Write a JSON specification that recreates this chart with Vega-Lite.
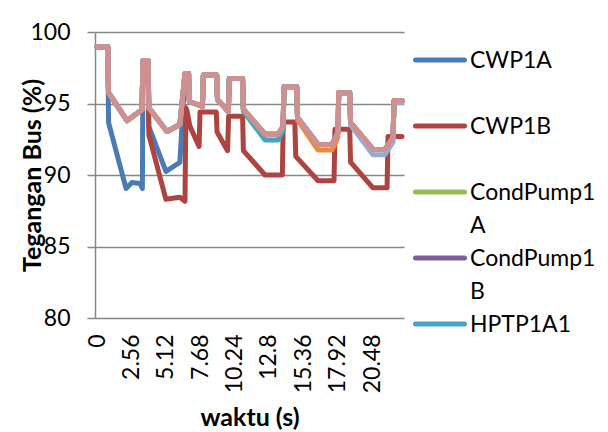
{
  "$schema": "https://vega.github.io/schema/vega-lite/v6.json",
  "width": 309,
  "height": 286,
  "autosize": {"type": "none"},
  "padding": {"left": 95, "top": 32, "right": 204, "bottom": 114},
  "background": "white",
  "title": {"text": "pada Gambar 7.", "anchor": "start", "dx": -97, "offset": 27, "baseline": "alphabetic", "font": "Liberation Serif", "fontSize": 24, "fontWeight": "normal", "color": "black"},
  "config": {"view": {"stroke": null}, "font": "Lato"},
  "datasets": {
    "d": [
      {"s":"CWP1A","t":0,"v":98.97},{"s":"CWP1A","t":0.8,"v":98.97},{"s":"CWP1A","t":0.86,"v":93.67},{"s":"CWP1A","t":2.16,"v":89.06},{"s":"CWP1A","t":2.6,"v":89.48},{"s":"CWP1A","t":3.2,"v":89.41},{"s":"CWP1A","t":3.38,"v":89.06},{"s":"CWP1A","t":3.42,"v":98.0},{"s":"CWP1A","t":3.8,"v":98.0},{"s":"CWP1A","t":3.86,"v":93.38},{"s":"CWP1A","t":5.13,"v":90.25},{"s":"CWP1A","t":6.17,"v":90.88},{"s":"CWP1A","t":6.55,"v":97.1},{"s":"CWP1A","t":6.82,"v":97.1},{"s":"CWP1A","t":6.87,"v":95.14},{"s":"CWP1A","t":7.85,"v":94.79},{"s":"CWP1A","t":7.92,"v":97.0},{"s":"CWP1A","t":8.91,"v":97.0},{"s":"CWP1A","t":8.97,"v":95.28},{"s":"CWP1A","t":9.78,"v":94.44},{"s":"CWP1A","t":9.85,"v":96.74},{"s":"CWP1A","t":10.84,"v":96.74},{"s":"CWP1A","t":10.9,"v":94.6},{"s":"CWP1A","t":12.51,"v":92.85},{"s":"CWP1A","t":13.48,"v":92.85},{"s":"CWP1A","t":13.85,"v":93.39},{"s":"CWP1A","t":13.93,"v":96.18},{"s":"CWP1A","t":14.87,"v":96.18},{"s":"CWP1A","t":14.93,"v":94.02},{"s":"CWP1A","t":16.46,"v":92.13},{"s":"CWP1A","t":17.5,"v":92.13},{"s":"CWP1A","t":17.94,"v":92.97},{"s":"CWP1A","t":18,"v":95.76},{"s":"CWP1A","t":18.82,"v":95.76},{"s":"CWP1A","t":18.88,"v":93.67},{"s":"CWP1A","t":20.55,"v":91.79},{"s":"CWP1A","t":21.44,"v":91.79},{"s":"CWP1A","t":22.04,"v":92.62},{"s":"CWP1A","t":22.12,"v":95.21},{"s":"CWP1A","t":22.71,"v":95.21},

      {"s":"CWP1B","t":0,"v":98.97},{"s":"CWP1B","t":0.8,"v":98.97},{"s":"CWP1B","t":0.86,"v":95.76},{"s":"CWP1B","t":2.23,"v":93.8},{"s":"CWP1B","t":3.35,"v":94.57},{"s":"CWP1B","t":3.42,"v":98.0},{"s":"CWP1B","t":3.8,"v":98.0},{"s":"CWP1B","t":3.86,"v":92.8},{"s":"CWP1B","t":5.13,"v":88.3},{"s":"CWP1B","t":6.17,"v":88.44},{"s":"CWP1B","t":6.55,"v":88.16},{"s":"CWP1B","t":6.62,"v":94.7},{"s":"CWP1B","t":6.7,"v":94.5},{"s":"CWP1B","t":6.92,"v":93.4},{"s":"CWP1B","t":7.6,"v":92.0},{"s":"CWP1B","t":7.67,"v":94.4},{"s":"CWP1B","t":8.88,"v":94.4},{"s":"CWP1B","t":8.94,"v":93.0},{"s":"CWP1B","t":9.72,"v":91.7},{"s":"CWP1B","t":9.8,"v":94.1},{"s":"CWP1B","t":10.84,"v":94.1},{"s":"CWP1B","t":10.9,"v":91.7},{"s":"CWP1B","t":12.51,"v":90.0},{"s":"CWP1B","t":13.8,"v":90.0},{"s":"CWP1B","t":13.87,"v":93.7},{"s":"CWP1B","t":14.73,"v":93.7},{"s":"CWP1B","t":14.8,"v":91.3},{"s":"CWP1B","t":16.46,"v":89.6},{"s":"CWP1B","t":17.65,"v":89.6},{"s":"CWP1B","t":17.72,"v":93.2},{"s":"CWP1B","t":18.82,"v":93.2},{"s":"CWP1B","t":18.88,"v":90.9},{"s":"CWP1B","t":20.55,"v":89.1},{"s":"CWP1B","t":21.6,"v":89.1},{"s":"CWP1B","t":21.67,"v":92.7},{"s":"CWP1B","t":22.71,"v":92.7},

      {"s":"CondPump1A","t":0,"v":98.97},{"s":"CondPump1A","t":0.8,"v":98.97},{"s":"CondPump1A","t":0.86,"v":95.76},{"s":"CondPump1A","t":2.23,"v":93.8},{"s":"CondPump1A","t":3.35,"v":94.57},{"s":"CondPump1A","t":3.42,"v":98.0},{"s":"CondPump1A","t":3.8,"v":98.0},{"s":"CondPump1A","t":3.86,"v":94.7},{"s":"CondPump1A","t":5.21,"v":93.04},{"s":"CondPump1A","t":6.17,"v":93.53},{"s":"CondPump1A","t":6.55,"v":97.1},{"s":"CondPump1A","t":6.82,"v":97.1},{"s":"CondPump1A","t":6.87,"v":95.14},{"s":"CondPump1A","t":7.85,"v":94.79},{"s":"CondPump1A","t":7.92,"v":97.0},{"s":"CondPump1A","t":8.91,"v":97.0},{"s":"CondPump1A","t":8.97,"v":95.28},{"s":"CondPump1A","t":9.78,"v":94.44},{"s":"CondPump1A","t":9.85,"v":96.74},{"s":"CondPump1A","t":10.84,"v":96.74},{"s":"CondPump1A","t":10.9,"v":94.6},{"s":"CondPump1A","t":12.51,"v":92.85},{"s":"CondPump1A","t":13.48,"v":92.85},{"s":"CondPump1A","t":13.85,"v":93.39},{"s":"CondPump1A","t":13.93,"v":96.18},{"s":"CondPump1A","t":14.87,"v":96.18},{"s":"CondPump1A","t":14.93,"v":94.02},{"s":"CondPump1A","t":16.46,"v":92.13},{"s":"CondPump1A","t":17.5,"v":92.13},{"s":"CondPump1A","t":17.94,"v":92.97},{"s":"CondPump1A","t":18,"v":95.76},{"s":"CondPump1A","t":18.82,"v":95.76},{"s":"CondPump1A","t":18.88,"v":93.67},{"s":"CondPump1A","t":20.55,"v":91.79},{"s":"CondPump1A","t":21.44,"v":91.79},{"s":"CondPump1A","t":22.04,"v":92.62},{"s":"CondPump1A","t":22.12,"v":95.21},{"s":"CondPump1A","t":22.71,"v":95.21},

      {"s":"CondPump1B","t":0,"v":98.97},{"s":"CondPump1B","t":0.8,"v":98.97},{"s":"CondPump1B","t":0.86,"v":95.76},{"s":"CondPump1B","t":2.23,"v":93.8},{"s":"CondPump1B","t":3.35,"v":94.57},{"s":"CondPump1B","t":3.42,"v":98.0},{"s":"CondPump1B","t":3.8,"v":98.0},{"s":"CondPump1B","t":3.86,"v":94.7},{"s":"CondPump1B","t":5.21,"v":93.04},{"s":"CondPump1B","t":6.17,"v":93.53},{"s":"CondPump1B","t":6.55,"v":97.1},{"s":"CondPump1B","t":6.82,"v":97.1},{"s":"CondPump1B","t":6.87,"v":95.14},{"s":"CondPump1B","t":7.85,"v":94.79},{"s":"CondPump1B","t":7.92,"v":97.0},{"s":"CondPump1B","t":8.91,"v":97.0},{"s":"CondPump1B","t":8.97,"v":95.28},{"s":"CondPump1B","t":9.78,"v":94.44},{"s":"CondPump1B","t":9.85,"v":96.74},{"s":"CondPump1B","t":10.84,"v":96.74},{"s":"CondPump1B","t":10.9,"v":94.6},{"s":"CondPump1B","t":12.51,"v":92.85},{"s":"CondPump1B","t":13.48,"v":92.85},{"s":"CondPump1B","t":13.85,"v":93.39},{"s":"CondPump1B","t":13.93,"v":96.18},{"s":"CondPump1B","t":14.87,"v":96.18},{"s":"CondPump1B","t":14.93,"v":94.02},{"s":"CondPump1B","t":16.46,"v":92.13},{"s":"CondPump1B","t":17.5,"v":92.13},{"s":"CondPump1B","t":17.94,"v":92.97},{"s":"CondPump1B","t":18,"v":95.76},{"s":"CondPump1B","t":18.82,"v":95.76},{"s":"CondPump1B","t":18.88,"v":93.67},{"s":"CondPump1B","t":20.55,"v":91.79},{"s":"CondPump1B","t":21.44,"v":91.79},{"s":"CondPump1B","t":22.04,"v":92.62},{"s":"CondPump1B","t":22.12,"v":95.21},{"s":"CondPump1B","t":22.71,"v":95.21},

      {"s":"HPTP1A1","t":0,"v":98.97},{"s":"HPTP1A1","t":0.8,"v":98.97},{"s":"HPTP1A1","t":0.86,"v":95.76},{"s":"HPTP1A1","t":2.23,"v":93.8},{"s":"HPTP1A1","t":3.35,"v":94.57},{"s":"HPTP1A1","t":3.42,"v":98.0},{"s":"HPTP1A1","t":3.8,"v":98.0},{"s":"HPTP1A1","t":3.86,"v":94.7},{"s":"HPTP1A1","t":5.21,"v":93.04},{"s":"HPTP1A1","t":6.17,"v":93.53},{"s":"HPTP1A1","t":6.55,"v":97.1},{"s":"HPTP1A1","t":6.82,"v":97.1},{"s":"HPTP1A1","t":6.87,"v":95.14},{"s":"HPTP1A1","t":7.85,"v":94.79},{"s":"HPTP1A1","t":7.92,"v":97.0},{"s":"HPTP1A1","t":8.91,"v":97.0},{"s":"HPTP1A1","t":8.97,"v":95.28},{"s":"HPTP1A1","t":9.78,"v":94.44},{"s":"HPTP1A1","t":9.85,"v":96.74},{"s":"HPTP1A1","t":10.84,"v":96.74},{"s":"HPTP1A1","t":10.9,"v":94.45},{"s":"HPTP1A1","t":12.51,"v":92.45},{"s":"HPTP1A1","t":13.48,"v":92.45},{"s":"HPTP1A1","t":13.85,"v":93.1},{"s":"HPTP1A1","t":13.93,"v":96.18},{"s":"HPTP1A1","t":14.87,"v":96.18},{"s":"HPTP1A1","t":14.93,"v":94.02},{"s":"HPTP1A1","t":16.46,"v":92.13},{"s":"HPTP1A1","t":17.5,"v":92.13},{"s":"HPTP1A1","t":17.94,"v":92.97},{"s":"HPTP1A1","t":18,"v":95.76},{"s":"HPTP1A1","t":18.82,"v":95.76},{"s":"HPTP1A1","t":18.88,"v":93.67},{"s":"HPTP1A1","t":20.55,"v":91.79},{"s":"HPTP1A1","t":21.44,"v":91.79},{"s":"HPTP1A1","t":22.04,"v":92.62},{"s":"HPTP1A1","t":22.12,"v":95.1},{"s":"HPTP1A1","t":22.71,"v":95.1},

      {"s":"HPTP1B1","t":0,"v":98.97},{"s":"HPTP1B1","t":0.8,"v":98.97},{"s":"HPTP1B1","t":0.86,"v":95.76},{"s":"HPTP1B1","t":2.23,"v":93.8},{"s":"HPTP1B1","t":3.35,"v":94.57},{"s":"HPTP1B1","t":3.42,"v":98.0},{"s":"HPTP1B1","t":3.8,"v":98.0},{"s":"HPTP1B1","t":3.86,"v":94.7},{"s":"HPTP1B1","t":5.21,"v":93.04},{"s":"HPTP1B1","t":6.17,"v":93.53},{"s":"HPTP1B1","t":6.55,"v":97.1},{"s":"HPTP1B1","t":6.82,"v":97.1},{"s":"HPTP1B1","t":6.87,"v":95.14},{"s":"HPTP1B1","t":7.85,"v":94.79},{"s":"HPTP1B1","t":7.92,"v":97.0},{"s":"HPTP1B1","t":8.91,"v":97.0},{"s":"HPTP1B1","t":8.97,"v":95.28},{"s":"HPTP1B1","t":9.78,"v":94.44},{"s":"HPTP1B1","t":9.85,"v":96.74},{"s":"HPTP1B1","t":10.84,"v":96.74},{"s":"HPTP1B1","t":10.9,"v":94.6},{"s":"HPTP1B1","t":12.51,"v":92.85},{"s":"HPTP1B1","t":13.48,"v":92.85},{"s":"HPTP1B1","t":13.85,"v":93.39},{"s":"HPTP1B1","t":13.93,"v":96.18},{"s":"HPTP1B1","t":14.87,"v":96.18},{"s":"HPTP1B1","t":14.93,"v":93.85},{"s":"HPTP1B1","t":16.46,"v":91.75},{"s":"HPTP1B1","t":17.5,"v":91.75},{"s":"HPTP1B1","t":17.94,"v":92.65},{"s":"HPTP1B1","t":18,"v":95.76},{"s":"HPTP1B1","t":18.82,"v":95.76},{"s":"HPTP1B1","t":18.88,"v":93.67},{"s":"HPTP1B1","t":20.55,"v":91.79},{"s":"HPTP1B1","t":21.44,"v":91.79},{"s":"HPTP1B1","t":22.04,"v":92.62},{"s":"HPTP1B1","t":22.12,"v":95.21},{"s":"HPTP1B1","t":22.71,"v":95.21},

      {"s":"HPTP1A2","t":0,"v":98.97},{"s":"HPTP1A2","t":0.8,"v":98.97},{"s":"HPTP1A2","t":0.86,"v":95.76},{"s":"HPTP1A2","t":2.23,"v":93.8},{"s":"HPTP1A2","t":3.35,"v":94.57},{"s":"HPTP1A2","t":3.42,"v":98.0},{"s":"HPTP1A2","t":3.8,"v":98.0},{"s":"HPTP1A2","t":3.86,"v":94.7},{"s":"HPTP1A2","t":5.21,"v":93.04},{"s":"HPTP1A2","t":6.17,"v":93.53},{"s":"HPTP1A2","t":6.55,"v":97.1},{"s":"HPTP1A2","t":6.82,"v":97.1},{"s":"HPTP1A2","t":6.87,"v":95.14},{"s":"HPTP1A2","t":7.85,"v":94.79},{"s":"HPTP1A2","t":7.92,"v":97.0},{"s":"HPTP1A2","t":8.91,"v":97.0},{"s":"HPTP1A2","t":8.97,"v":95.28},{"s":"HPTP1A2","t":9.78,"v":94.44},{"s":"HPTP1A2","t":9.85,"v":96.74},{"s":"HPTP1A2","t":10.84,"v":96.74},{"s":"HPTP1A2","t":10.9,"v":94.6},{"s":"HPTP1A2","t":12.51,"v":92.85},{"s":"HPTP1A2","t":13.48,"v":92.85},{"s":"HPTP1A2","t":13.85,"v":93.39},{"s":"HPTP1A2","t":13.93,"v":96.18},{"s":"HPTP1A2","t":14.87,"v":96.18},{"s":"HPTP1A2","t":14.93,"v":94.02},{"s":"HPTP1A2","t":16.46,"v":92.13},{"s":"HPTP1A2","t":17.5,"v":92.13},{"s":"HPTP1A2","t":17.94,"v":92.97},{"s":"HPTP1A2","t":18,"v":95.76},{"s":"HPTP1A2","t":18.82,"v":95.76},{"s":"HPTP1A2","t":18.88,"v":93.5},{"s":"HPTP1A2","t":20.55,"v":91.42},{"s":"HPTP1A2","t":21.44,"v":91.42},{"s":"HPTP1A2","t":22.04,"v":92.3},{"s":"HPTP1A2","t":22.12,"v":95.05},{"s":"HPTP1A2","t":22.71,"v":95.05},

      {"s":"HPTP1B2","t":0,"v":98.97},{"s":"HPTP1B2","t":0.8,"v":98.97},{"s":"HPTP1B2","t":0.86,"v":95.76},{"s":"HPTP1B2","t":2.23,"v":93.8},{"s":"HPTP1B2","t":3.35,"v":94.57},{"s":"HPTP1B2","t":3.42,"v":98.0},{"s":"HPTP1B2","t":3.8,"v":98.0},{"s":"HPTP1B2","t":3.86,"v":94.7},{"s":"HPTP1B2","t":5.21,"v":93.04},{"s":"HPTP1B2","t":6.17,"v":93.53},{"s":"HPTP1B2","t":6.55,"v":97.1},{"s":"HPTP1B2","t":6.82,"v":97.1},{"s":"HPTP1B2","t":6.87,"v":95.14},{"s":"HPTP1B2","t":7.85,"v":94.79},{"s":"HPTP1B2","t":7.92,"v":97.0},{"s":"HPTP1B2","t":8.91,"v":97.0},{"s":"HPTP1B2","t":8.97,"v":95.28},{"s":"HPTP1B2","t":9.78,"v":94.44},{"s":"HPTP1B2","t":9.85,"v":96.74},{"s":"HPTP1B2","t":10.84,"v":96.74},{"s":"HPTP1B2","t":10.9,"v":94.6},{"s":"HPTP1B2","t":12.51,"v":92.85},{"s":"HPTP1B2","t":13.48,"v":92.85},{"s":"HPTP1B2","t":13.85,"v":93.39},{"s":"HPTP1B2","t":13.93,"v":96.18},{"s":"HPTP1B2","t":14.87,"v":96.18},{"s":"HPTP1B2","t":14.93,"v":94.02},{"s":"HPTP1B2","t":16.46,"v":92.13},{"s":"HPTP1B2","t":17.5,"v":92.13},{"s":"HPTP1B2","t":17.94,"v":92.97},{"s":"HPTP1B2","t":18,"v":95.76},{"s":"HPTP1B2","t":18.82,"v":95.76},{"s":"HPTP1B2","t":18.88,"v":93.67},{"s":"HPTP1B2","t":20.55,"v":91.79},{"s":"HPTP1B2","t":21.44,"v":91.79},{"s":"HPTP1B2","t":22.04,"v":92.62},{"s":"HPTP1B2","t":22.12,"v":95.21},{"s":"HPTP1B2","t":22.71,"v":95.21}
    ]
  },
  "data": {"name": "d"},
  "mark": {"type": "line", "strokeWidth": 5, "strokeCap": "round", "strokeJoin": "round"},
  "encoding": {
    "x": {
      "field": "t", "type": "quantitative",
      "scale": {"domain": [-0.15, 22.86], "nice": false, "zero": false},
      "axis": {
        "values": [0, 2.56, 5.12, 7.68, 10.24, 12.8, 15.36, 17.92, 20.48],
        "format": ".4~g",
        "labelAngle": -90, "labelFontSize": 23, "labelColor": "black", "labelPadding": 16,
        "labelFlush": false, "labelOverlap": false,
        "ticks": false, "grid": false, "domain": false,
        "title": "waktu (s)", "titleFontSize": 25, "titleFontWeight": "bold", "titleColor": "black",
        "titleY": 107, "titleBaseline": "alphabetic"
      }
    },
    "y": {
      "field": "v", "type": "quantitative",
      "scale": {"domain": [80, 100], "nice": false, "zero": false},
      "axis": {
        "values": [80, 85, 90, 95, 100],
        "grid": true, "gridColor": "#878787", "gridWidth": 1.5,
        "domainColor": "#878787", "domainWidth": 1.5,
        "tickColor": "#878787", "tickSize": 8, "tickWidth": 1.5,
        "labelFontSize": 23, "labelColor": "black", "labelPadding": 17, "labelFlush": false,
        "title": "Tegangan Bus (%)", "titleFontSize": 25, "titleFontWeight": "bold", "titleColor": "black",
        "titleX": -63, "titleY": 143, "titleAngle": -90, "titleAlign": "center", "titleBaseline": "middle"
      }
    },
    "color": {
      "field": "s", "type": "nominal",
      "scale": {
        "domain": ["CWP1A", "CWP1B", "CondPump1A", "CondPump1B", "HPTP1A1", "HPTP1B1", "HPTP1A2", "HPTP1B2"],
        "range": ["#4A7BB7", "#AE4440", "#98B954", "#7A5F9E", "#43A5C2", "#EC8A3C", "#93ACD8", "#D09090"]
      },
      "legend": {
        "values": ["CWP1A", "CWP1B", "CondPump1A", "CondPump1B", "HPTP1A1"],
        "orient": "none", "legendX": 318, "legendY": 16, "padding": 0,
        "title": null,
        "symbolType": "stroke", "symbolStrokeWidth": 5, "symbolSize": 2400,
        "labelFontSize": 23, "labelColor": "black", "labelOffset": 3, "labelLimit": 200,
        "labelBaseline": "alphabetic",
        "labelExpr": "datum.label == 'CondPump1A' ? ['CondPump1', 'A'] : datum.label == 'CondPump1B' ? ['CondPump1', 'B'] : datum.label",
        "gridAlign": "all", "rowPadding": 0, "clipHeight": 66,
        "encode": {
          "labels": {"update": {"y": {"value": 12}, "dy": {"value": 8}, "lineHeight": {"value": 33}}},
          "symbols": {"update": {"y": {"value": 12}, "strokeCap": {"value": "round"}}}
        }
      }
    }
  }
}
